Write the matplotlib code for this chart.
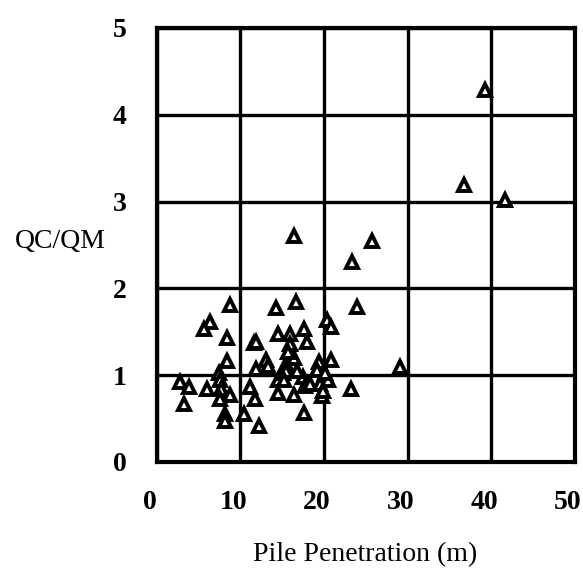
"""
QC/QM a cölöp behatolási mélység függvényében
"""

import matplotlib.pyplot as plt
import matplotlib.transforms as mtransforms

# Pile penetration (m)
penetration = [39.2, 36.8, 41.7, 16.4, 25.7, 23.3, 24.0,
               8.8, 14.3, 16.6, 6.4, 5.6, 8.4, 11.6, 11.9,
               14.5, 15.9, 15.9, 17.6, 18.0, 20.4, 20.8,
               8.4, 13.1, 11.9, 13.3, 16.4, 15.5, 15.7, 19.4, 20.8, 19.2, 29.1,
               7.4, 2.8, 3.9, 6.0, 3.2, 7.6, 7.7, 8.8, 7.6, 8.2, 8.2, 10.4, 12.2,
               11.2, 11.8, 14.5, 14.5, 15.1, 16.4, 17.5, 17.7, 18.3, 17.6,
               19.5, 19.7, 20.5, 23.2, 20.1, 15.5, 15.2, 16.8, 19.9]
# QC/QM ratio
ratio = [4.29, 3.19, 3.02, 2.60, 2.54, 2.30, 1.78,
         1.81, 1.77, 1.84, 1.61, 1.53, 1.43, 1.37, 1.38,
         1.47, 1.47, 1.36, 1.53, 1.38, 1.64, 1.56,
         1.16, 1.18, 1.07, 1.10, 1.20, 1.13, 1.27, 1.15, 1.18, 1.06, 1.09,
         1.03, 0.92, 0.86, 0.84, 0.67, 0.94, 0.84, 0.77, 0.72, 0.55, 0.47, 0.55, 0.41,
         0.86, 0.72, 0.94, 0.80, 1.02, 0.77, 0.98, 0.87, 0.90, 0.56,
         0.90, 0.76, 0.94, 0.84, 1.02, 1.05, 0.94, 1.05, 0.82]

x_ticks = [0, 10, 20, 30, 40, 50]
y_ticks = [0, 1, 2, 3, 4, 5]

plt.rcParams['font.family'] = ['Liberation Serif', 'DejaVu Serif']
font = 20

fig = plt.figure(figsize=(5.83, 5.78), dpi=100)
ax = fig.add_axes([0.269, 0.2007, 0.717, 0.751])

ax.plot(penetration, ratio, linestyle='none', marker='^', markersize=8.5,
        markerfacecolor='white', markeredgecolor='black', markeredgewidth=2.8,
        zorder=3)

ax.set_xlim(0, 50)
ax.set_ylim(0, 5)
ax.set_xticks(x_ticks)
ax.set_yticks(y_ticks)
ax.set_xticklabels([str(v) for v in x_ticks], fontsize=font, fontweight='bold')
ax.set_yticklabels([str(v) for v in y_ticks], fontsize=font, fontweight='bold')
ax.tick_params(length=0)
ax.tick_params(axis='x', pad=20)
ax.tick_params(axis='y', pad=22)

# x feliratok kissé balra tolva, mint az eredetin
shift = mtransforms.ScaledTranslation(-0.07, 0, fig.dpi_scale_trans)
for lab in ax.get_xticklabels():
    lab.set_transform(lab.get_transform() + shift)

# Rács
ax.grid(True, color='black', linewidth=2.4)
ax.set_axisbelow(True)
for s in ax.spines.values():
    s.set_linewidth(3)

ax.set_xlabel('Pile Penetration (m)', fontsize=font)
ax.set_ylabel('QC/QM', fontsize=font, rotation=0, ha='center', va='center')
ax.xaxis.set_label_coords(0.498, -0.185)
ax.yaxis.set_label_coords(-0.232, 0.507)

fig.savefig('out.png', dpi=100)
